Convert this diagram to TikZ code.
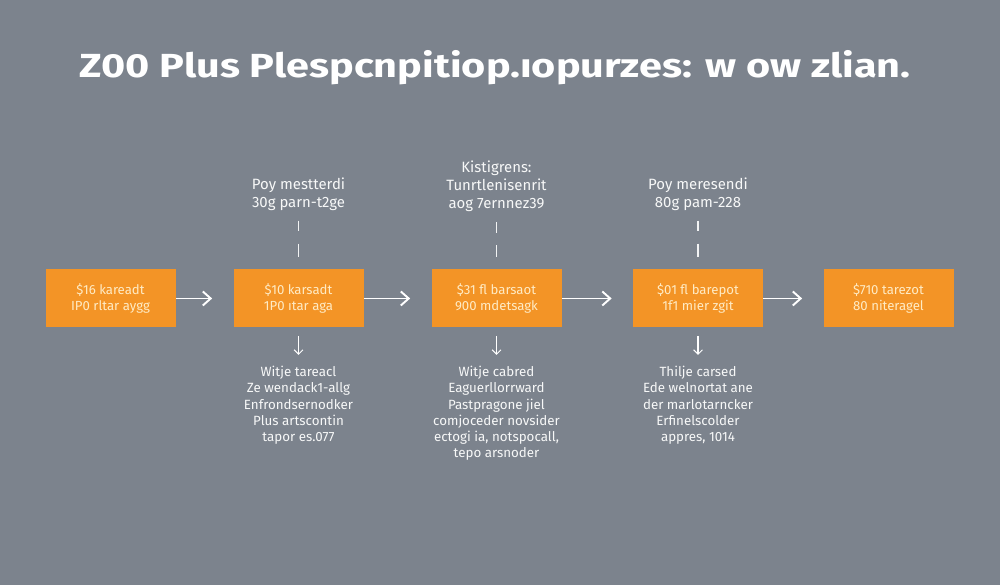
\documentclass[tikz,border=0pt]{standalone}
\usepackage{fontspec}
\setmainfont{Fira Sans}
\newfontfamily\headfont[FakeStretch=1.24]{Fira Sans}
\usepackage{xcolor}
\usetikzlibrary{arrows.meta}
\definecolor{slate}{HTML}{7C838D}
\definecolor{amber}{HTML}{F39426}
\definecolor{cream}{HTML}{FFEBC4}

\begin{document}
\begin{tikzpicture}[
        stage/.style={fill=amber, minimum width=2.6cm, minimum height=1.16cm, align=center,
            text=cream, font=\fontsize{7.5}{9.2}\selectfont},
        note/.style={align=center, text=white!94!slate, inner sep=0pt, font=\fontsize{8.5}{10.2}\selectfont},
        detail/.style={align=center, text=white!94!slate, inner sep=0pt, anchor=north,
            font=\fontsize{7.6}{9.2}\selectfont},
        flow/.style={white, line width=1.1pt, -{Straight Barb[length=4.5pt,width=8pt]}, shorten >=0.42cm},
        drop/.style={white, line width=0.6pt, -{Straight Barb[length=2.5pt,width=5pt]},
            shorten <=0.16cm, shorten >=0.22cm},
        tick/.style={white!90!slate, line width=0.8pt, dash pattern=on 6pt off 7pt on 9pt off 7pt,
            shorten <=0.2cm, shorten >=0.24cm}
    ]
                \fill[slate] (0, 0) rectangle (20, 11.7);

                \node[text=white, font=\fontsize{19}{22}\headfont\bfseries] (title) at (9.9, 10.34)
                    {Z00 Plus Plespcnpitiop.ıopurzes: w ow zlian.};

                \node[stage] (b1) at (2.21, 5.73) {\$16 kareadt\\IP0 rltar aygg};
                \node[stage] (b2) at (5.97, 5.73) {\$10 karsadt\\1P0 ıtar aga};
                \node[stage] (b3) at (9.93, 5.73) {\$31 fl barsaot\\900 mdetsagk};
                \node[stage] (b4) at (13.96, 5.73) {\$01 fl barepot\\1f1 mier zgit};
                \node[stage] (b5) at (17.77, 5.73) {\$710 tarezot\\80 niteragel};

                \draw[flow] (b1) -- (b2);
                \draw[flow] (b2) -- (b3);
                \draw[flow] (b3) -- (b4);
                \draw[flow] (b4) -- (b5);

                \node[note] (t2) at (5.97, 7.82) {Poy mestterdi\\30g parn-t2ge};
                \node[note] (t3) at (9.93, 7.97) {Kistigrens:\\Tunrtlenisenrit\\aog 7ernnez39};
                \node[note] (t4) at (13.96, 7.82) {Poy meresendi\\80g pam-228};

                \draw[tick] (t2) -- (b2);
                \draw[tick] (t3) -- (b3);
                \draw[tick] (t4) -- (b4);

                \node[detail] (d2) at (5.97, 4.38)
                    {Witje tareacl\\Ze wendack1-allg\\Enfrondsernodker\\Plus artscontin\\tapor es.077};
                \node[detail] (d3) at (9.93, 4.38)
                    {Witje cabred\\Eaguerllorrward\\Pastpragone jiel\\comjoceder novsider\\ectogi ia, notspocall,\\tepo arsnoder};
                \node[detail] (d4) at (13.96, 4.38)
                    {Thilje carsed\\Ede welnortat ane\\der marlotarncker\\Erfinelscolder\\appres, 1014};

                \draw[drop] (b2) -- (d2);
                \draw[drop] (b3) -- (d3);
                \draw[drop] (b4) -- (d4);
            \end{tikzpicture}
\end{document}
